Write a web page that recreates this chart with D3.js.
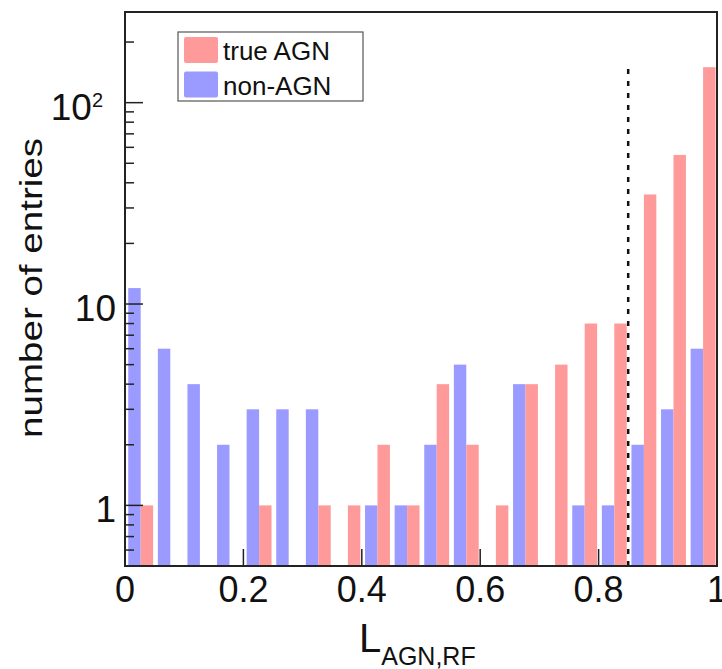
<!DOCTYPE html>
<html>
<head>
<meta charset="utf-8">
<script src="https://cdn.jsdelivr.net/npm/d3@7"></script>
<style>
  body { margin: 0; background: #fff; }
  text { font-family: "Liberation Sans", Arial, Helvetica, sans-serif; fill: #111; }
</style>
</head>
<body>
<svg id="chart"></svg>
<script>
// bin lower edges (width 0.05)
const binLow = [0.00, 0.05, 0.10, 0.15, 0.20, 0.25, 0.30, 0.35, 0.40, 0.45,
                0.50, 0.55, 0.60, 0.65, 0.70, 0.75, 0.80, 0.85, 0.90, 0.95];
const binWidth = 0.05;

const trueAGN = [1, 0, 0, 0, 1, 0, 1, 1, 2, 1, 4, 2, 1, 4, 5, 8, 8, 35, 55, 150];
const nonAGN  = [12, 6, 4, 2, 3, 3, 3, 0, 1, 1, 2, 5, 0, 4, 0, 1, 1, 2, 3, 6];

const xTicks = [0, 0.2, 0.4, 0.6, 0.8, 1];
const xTickLabels = ['0', '0.2', '0.4', '0.6', '0.8', '1'];
const yMajor = [1, 10, 100];
const yMinor = [0.6, 0.7, 0.8, 0.9, 2, 3, 4, 5, 6, 7, 8, 9, 20, 30, 40, 50, 60, 70, 80, 90, 200];

const cutValue = 0.85;   // dashed line position
const cutLineTop = 150;  // dashed line reaches this count

const legendItems = [
    { label: 'true AGN', color: '#ff9a9a' },
    { label: 'non-AGN', color: '#9a9aff' }
];

class Histogram {
    constructor(_config) {
        this.config = {
            parentElement: _config.parentElement,
            containerWidth: 722,
            containerHeight: 669,
            margin: { top: 12, right: 5, bottom: 103, left: 125 },
            barOffset: 0.11,
            barFrac: 0.42
        };
        this.initVis();
    }

    initVis() {
        let vis = this;

        vis.width = vis.config.containerWidth - vis.config.margin.left - vis.config.margin.right;
        vis.height = vis.config.containerHeight - vis.config.margin.top - vis.config.margin.bottom;

        vis.svg = d3.select(vis.config.parentElement)
            .attr('width', vis.config.containerWidth)
            .attr('height', vis.config.containerHeight);

        vis.chart = vis.svg.append('g')
            .attr('transform', `translate(${vis.config.margin.left},${vis.config.margin.top})`);

        vis.x = d3.scaleLinear().domain([0, 1]).range([0, vis.width]);
        vis.y = d3.scaleLog().domain([0.5, 282]).range([vis.height, 0]);

        vis.renderVis();
    }

    renderVis() {
        let vis = this;
        const bw = vis.x(binWidth) - vis.x(0);

        // non-AGN bars (left half of bin)
        vis.chart.selectAll('.bar-non')
            .data(binLow.map((b, i) => ({ b, v: nonAGN[i] })).filter(d => d.v > 0))
            .join('rect')
            .attr('class', 'bar-non')
            .attr('x', d => vis.x(d.b) + vis.config.barOffset * bw)
            .attr('width', vis.config.barFrac * bw)
            .attr('y', d => vis.y(d.v))
            .attr('height', d => vis.height - vis.y(d.v))
            .attr('fill', legendItems[1].color);

        // true AGN bars (right half of bin)
        vis.chart.selectAll('.bar-agn')
            .data(binLow.map((b, i) => ({ b, v: trueAGN[i] })).filter(d => d.v > 0))
            .join('rect')
            .attr('class', 'bar-agn')
            .attr('x', d => vis.x(d.b) + (vis.config.barOffset + vis.config.barFrac) * bw)
            .attr('width', vis.config.barFrac * bw)
            .attr('y', d => vis.y(d.v))
            .attr('height', d => vis.height - vis.y(d.v))
            .attr('fill', legendItems[0].color);

        // cut line
        vis.chart.append('line')
            .attr('x1', vis.x(cutValue)).attr('x2', vis.x(cutValue))
            .attr('y1', vis.height).attr('y2', vis.y(cutLineTop))
            .attr('stroke', '#111')
            .attr('stroke-width', 2.5)
            .attr('stroke-dasharray', '5,7');

        // y ticks (inward)
        vis.chart.selectAll('.ymajor')
            .data(yMajor)
            .join('line')
            .attr('x1', 0).attr('x2', 18)
            .attr('y1', d => vis.y(d)).attr('y2', d => vis.y(d))
            .attr('stroke', '#222').attr('stroke-width', 1.5);
        vis.chart.selectAll('.yminor')
            .data(yMinor)
            .join('line')
            .attr('x1', 0).attr('x2', 9)
            .attr('y1', d => vis.y(d)).attr('y2', d => vis.y(d))
            .attr('stroke', '#222').attr('stroke-width', 1.5);

        // x ticks (inward, no minor)
        vis.chart.selectAll('.xtick')
            .data(xTicks.slice(1, -1))
            .join('line')
            .attr('x1', d => vis.x(d)).attr('x2', d => vis.x(d))
            .attr('y1', vis.height).attr('y2', vis.height - 17)
            .attr('stroke', '#222').attr('stroke-width', 1.5);

        // frame
        vis.chart.append('rect')
            .attr('width', vis.width).attr('height', vis.height)
            .attr('fill', 'none')
            .attr('stroke', '#222')
            .attr('stroke-width', 2);

        // x tick labels
        vis.chart.selectAll('.xlabel')
            .data(xTicks)
            .join('text')
            .attr('x', d => vis.x(d))
            .attr('y', vis.height + 36)
            .attr('text-anchor', 'middle')
            .style('font-size', '36px')
            .text((d, i) => xTickLabels[i]);

        // y tick labels
        const yl = vis.chart.selectAll('.ylabel')
            .data(yMajor)
            .join('text')
            .attr('x', d => d === 100 ? -22 : -9)
            .attr('y', d => vis.y(d) + 17)
            .attr('text-anchor', 'end')
            .style('font-size', '37px');
        yl.each(function (d) {
            const t = d3.select(this);
            if (d === 100) {
                t.append('tspan').text('10');
                t.append('tspan').attr('dy', -13).style('font-size', '20px').text('2');
            } else {
                t.text(d);
            }
        });

        // axis titles
        const xt = vis.svg.append('text')
            .attr('x', 359)
            .attr('y', 652)
            .style('font-size', '40px');
        xt.append('tspan').text('L');
        xt.append('tspan').attr('dy', 13).style('font-size', '25px').text('AGN,RF');

        vis.svg.append('text')
            .attr('transform', 'translate(42,288) rotate(-90)')
            .attr('text-anchor', 'middle')
            .attr('textLength', 300)
            .attr('lengthAdjust', 'spacingAndGlyphs')
            .style('font-size', '31px')
            .text('number of entries');

        // legend
        const lg = vis.svg.append('g').attr('transform', 'translate(178,32)');
        lg.append('rect')
            .attr('width', 185).attr('height', 69)
            .attr('fill', '#fff')
            .attr('stroke', '#555').attr('stroke-width', 1.2);
        const li = lg.selectAll('.li')
            .data(legendItems)
            .join('g')
            .attr('transform', (d, i) => `translate(0,${i * 34.5})`);
        li.append('rect')
            .attr('x', 6).attr('y', 5)
            .attr('width', 34).attr('height', 26)
            .attr('rx', 2)
            .attr('fill', d => d.color);
        li.append('text')
            .attr('x', 45).attr('y', 28)
            .style('font-size', '26px')
            .text(d => d.label);
    }
}

new Histogram({ parentElement: '#chart' });
</script>
</body>
</html>
